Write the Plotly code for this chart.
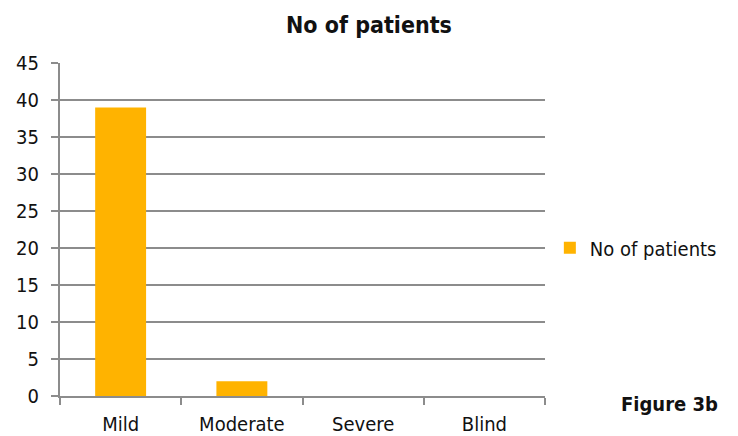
import plotly.graph_objects as go

categories = ["Mild", "Moderate", "Severe", "Blind"]
patients = [39, 2, 0, 0]
y_ticks = [0, 5, 10, 15, 20, 25, 30, 35, 40, 45]

BAR = "#FFB300"
GRID = "#8C8C8C"
FONT = "DejaVu Sans Condensed, Liberation Sans Narrow, Arial Narrow, sans-serif"

fig = go.Figure()
fig.add_trace(go.Bar(
    x=categories, y=patients, name="No of patients",
    marker=dict(color=BAR, line=dict(width=0)),
    width=0.42,
))

fig.update_layout(
    width=738, height=436,
    margin=dict(l=60, r=193, t=63, b=40),
    paper_bgcolor="white", plot_bgcolor="white",
    title=dict(text="<b>No of patients</b>", x=0.5, xanchor="center",
               y=0.942, yanchor="middle",
               font=dict(family=FONT, size=23, color="#111")),
    showlegend=True,
    legend=dict(x=1.01, y=0.445, xanchor="left", yanchor="middle",
                font=dict(family=FONT, size=20, color="#111"),
                itemwidth=30, borderwidth=0, bgcolor="rgba(0,0,0,0)"),
)
fig.update_xaxes(
    showline=True, linecolor=GRID, linewidth=2,
    ticks="outside", tickson="boundaries", ticklen=7, tickwidth=2, tickcolor=GRID,
    tickfont=dict(family=FONT, size=20, color="#111"),
    ticklabelstandoff=9, automargin=False,
    showgrid=False, fixedrange=True,
)
fig.update_yaxes(
    range=[0, 45], tickvals=y_ticks, ticktext=[str(v) for v in y_ticks],
    showline=True, linecolor=GRID, linewidth=2,
    ticks="outside", ticklen=7, tickwidth=2, tickcolor=GRID,
    showgrid=True, gridcolor=GRID, gridwidth=1.5,
    tickfont=dict(family=FONT, size=20, color="#111"),
    ticklabelstandoff=8, automargin=False,
    zeroline=False,
)
fig.add_annotation(
    text="<b>Figure 3b</b>", xref="paper", yref="paper",
    x=1.36, y=-0.025, xanchor="right", yanchor="middle", showarrow=False,
    font=dict(family=FONT, size=20, color="#111"),
)

fig.write_html("out.html")
